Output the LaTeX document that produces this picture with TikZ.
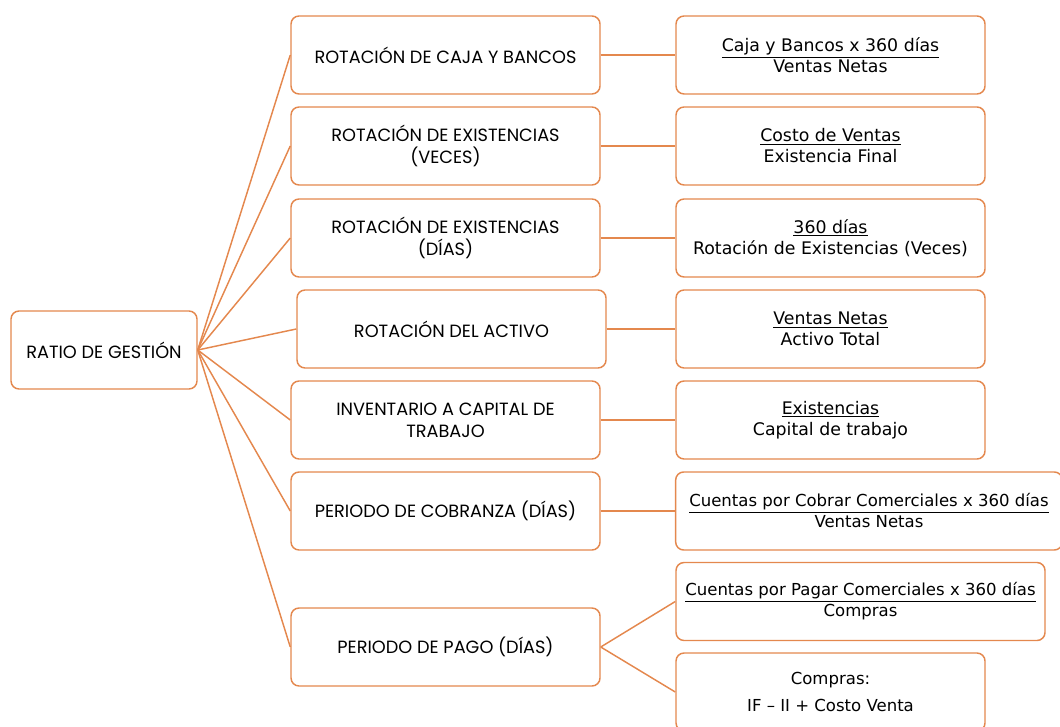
\documentclass[tikz,border=0pt]{standalone}
\usepackage{fontspec}
\setmainfont{DejaVu Sans}
\newfontfamily\capsfont{Poppins}
\definecolor{orc}{RGB}{228,136,78}
\begin{document}
\begin{tikzpicture}[x=0.75pt,y=-0.75pt,
  box/.style={draw=orc, line width=1.1pt, rounded corners=6pt, fill=white, align=center, inner sep=0pt, minimum height=58.5pt},
  leftbox/.style={box, minimum width=139.5pt, font=\capsfont\fontsize{13.3}{16.5}\selectfont},
  midbox/.style={box, minimum width=231.75pt, font=\capsfont\fontsize{13.3}{16.5}\selectfont},
  rightbox/.style={box, minimum width=231.75pt, font=\fontsize{13}{15.75}\selectfont},
  conn/.style={draw=orc, line width=1.1pt}]
\clip (0,0) rectangle (1060,727);
\useasboundingbox (0,0) rectangle (1060,727);
\node[leftbox] (root) at (104,350) {RATIO DE GESTIÓN};
\node[midbox] (m1) at (445.5,55) {ROTACIÓN DE CAJA Y BANCOS};
\node[midbox] (m2) at (445.5,146) {ROTACIÓN DE EXISTENCIAS\\(VECES)};
\node[midbox] (m3) at (445.5,238) {ROTACIÓN DE EXISTENCIAS\\(DÍAS)};
\node[midbox] (m4) at (451.5,329) {ROTACIÓN DEL ACTIVO};
\node[midbox] (m5) at (445.5,420) {INVENTARIO A CAPITAL DE\\TRABAJO};
\node[midbox] (m6) at (445.5,511) {PERIODO DE COBRANZA (DÍAS)};
\node[midbox] (m7) at (445.5,647) {PERIODO DE PAGO (DÍAS)};
\node[rightbox] (r1) at (830.5,55) {\underline{Caja y Bancos x 360 días}\\Ventas Netas};
\node[rightbox] (r2) at (830.5,146) {\underline{Costo de Ventas}\\Existencia Final};
\node[rightbox] (r3) at (830.5,238) {\underline{360 días}\\Rotación de Existencias (Veces)};
\node[rightbox] (r4) at (830.5,329) {\underline{Ventas Netas}\\Activo Total};
\node[rightbox] (r5) at (830.5,420) {\underline{Existencias}\\Capital de trabajo};
\node[rightbox, minimum width=290pt, font=\fontsize{12.4}{15.75}\selectfont] (r6) at (869,511) {\underline{Cuentas por Cobrar Comerciales x 360 días}\\Ventas Netas};
\node[rightbox, minimum width=276.75pt, font=\fontsize{12.4}{15.75}\selectfont] (r7) at (860.5,601.5) {\underline{Cuentas por Pagar Comerciales x 360 días}\\Compras};
\node[rightbox, font=\fontsize{12.4}{20}\selectfont] (r8) at (830.5,692) {Compras:\\IF – II + Costo Venta};
\foreach \m in {m1,m2,m3,m4,m5,m6,m7} \draw[conn] (root.east) -- (\m.west);
\foreach \i in {1,...,6} \draw[conn] (m\i.east) -- (r\i.west);
\draw[conn] (m7.east) -- (r7.west);
\draw[conn] (m7.east) -- (r8.west);
\end{tikzpicture}
\end{document}
